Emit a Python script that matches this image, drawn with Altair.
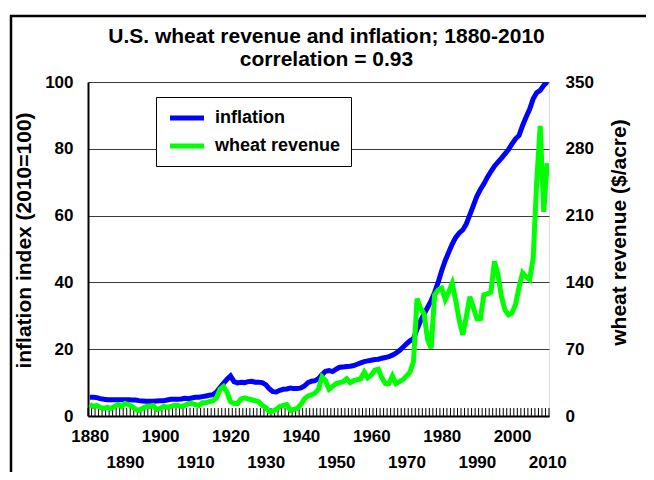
import altair as alt
import pandas as pd

years = list(range(1880, 2011))

inflation = [
    5.6, 5.6, 5.5, 5.2, 5.0, 4.9, 4.9, 4.9, 4.9, 4.9,
    4.9, 4.9, 4.8, 4.8, 4.6, 4.5, 4.4, 4.4, 4.4, 4.5,
    4.6, 4.6, 4.8, 5.0, 5.0, 5.0, 5.1, 5.3, 5.2, 5.4,
    5.6, 5.6, 5.8, 6.0, 6.2, 6.4, 7.2, 8.5, 9.8, 11.0,
    12.0, 10.3, 9.9, 10.1, 10.0, 10.3, 10.4, 10.1, 10.1, 10.0,
    9.4, 8.2, 7.3, 7.2, 7.7, 8.0, 8.1, 8.4, 8.2, 8.2,
    8.4, 9.0, 10.0, 10.4, 10.6, 11.2, 12.4, 13.4, 13.6, 13.3,
    14.0, 14.6, 14.7, 14.8, 14.9, 15.1, 15.5, 15.9, 16.3, 16.5,
    16.7, 16.9, 17.0, 17.3, 17.5, 17.8, 18.2, 18.8, 19.6, 20.6,
    21.6, 22.5, 23.2, 26.0, 28.5, 30.5, 32.5, 34.5, 37.0, 40.0,
    43.5, 46.5, 49.0, 51.5, 53.5, 54.8, 55.7, 57.5, 60.2, 63.0,
    65.8, 67.8, 69.5, 71.5, 73.2, 74.8, 76.0, 77.2, 78.5, 79.8,
    81.5, 83.0, 84.0, 87.0, 89.5, 91.8, 95.0, 96.8, 97.5, 99.0,
    100.0,
]

wheat = [
    12, 10, 11, 9, 8, 9, 8, 10, 12, 10,
    13, 12, 10, 7, 6, 8, 10, 10, 11, 7,
    8, 10, 9, 10, 11, 11, 10, 11, 13, 13,
    12, 11, 14, 14, 15, 16, 19, 28, 31, 25,
    15, 13, 13, 18, 19, 18, 17, 16, 15, 11,
    9, 4.5, 5, 7, 10, 11, 12, 6, 7, 8,
    12, 18, 21, 22, 24, 28, 41, 37, 28, 31,
    34, 35, 36, 39, 35, 37, 38, 39, 46, 40,
    43, 48, 49, 40, 34, 34, 42, 34, 36, 38,
    42, 46, 57, 123, 113, 107, 80, 71, 127, 132,
    134, 122, 130, 139, 121, 100, 85, 104, 125, 114,
    102, 102, 127, 128, 130, 162, 148, 125, 111, 106,
    108, 117, 135, 150, 146, 143, 165, 245, 304, 214,
    265,
]

series = ["inflation", "wheat revenue"]
colors = ["#0000ff", "#00ff00"]
left_ticks = [0, 20, 40, 60, 80, 100]
right_ticks = [0, 70, 140, 210, 280, 350]
label_row1 = [1880, 1900, 1920, 1940, 1960, 1980, 2000]
label_row2 = [1890, 1910, 1930, 1950, 1970, 1990, 2010]
boundaries = [y - 0.5 for y in years] + [years[-1] + 0.5]

F = "Liberation Sans"
W, H = 461, 334

df = pd.DataFrame({"year": years, "inflation": inflation, "wheat": wheat})
xscale = alt.Scale(domain=[1879.5, 2010.5], nice=False, zero=False)
cscale = alt.Scale(domain=series, range=colors)

legend = alt.Legend(
    orient="none", legendX=68, legendY=15, title=None, direction="vertical",
    symbolType="M-2,0H2", symbolStrokeWidth=5, symbolSize=289,
    symbolOffset=10, labelOffset=17,
    labelFont=F, labelFontSize=18, labelFontWeight="bold", labelColor="black",
    padding=10, rowPadding=7, strokeColor="black", fillColor="white",
    cornerRadius=0,
)

frame_data = alt.Data(values=[{"a": 1}])
border = alt.Chart(frame_data).mark_rect(
    fill=None, stroke="black", strokeWidth=2.5, clip=False
).encode(
    x=alt.value(-77), x2=alt.value(W + 99), y=alt.value(-66), y2=alt.value(H + 80)
)

ticks = alt.Chart(pd.DataFrame({"b": boundaries})).mark_rule(
    color="black", strokeWidth=1
).encode(
    x=alt.X("b:Q", scale=xscale, axis=None),
    y=alt.value(H - 8), y2=alt.value(H),
)

x_axis1 = alt.Axis(
    values=label_row1, format="d", orient="bottom", title=None, grid=False,
    ticks=False, domain=True, domainColor="black", domainWidth=2,
    labelFont=F, labelFontSize=17, labelFontWeight="bold", labelColor="black",
    labelPadding=12, labelFlush=False, labelOverlap=False,
)
x_axis2 = alt.Axis(
    values=label_row2, format="d", orient="bottom", title=None, grid=False,
    ticks=False, domain=False,
    labelFont=F, labelFontSize=17, labelFontWeight="bold", labelColor="black",
    labelPadding=38, labelFlush=False, labelOverlap=False,
)

infl = alt.Chart(df).transform_calculate(series='"inflation"').mark_line(
    strokeWidth=5, clip=True
).encode(
    x=alt.X("year:Q", scale=xscale, axis=x_axis1),
    y=alt.Y("inflation:Q", scale=alt.Scale(domain=[0, 100], nice=False),
            axis=alt.Axis(values=left_ticks, orient="left", title="inflation index (2010=100)",
                          grid=True, gridColor="#3a3a3a", gridWidth=1.2,
                          ticks=False, domain=True, domainColor="black", domainWidth=2,
                          labelFont=F, labelFontSize=17, labelFontWeight="bold",
                          labelColor="black", labelPadding=15,
                          titleFont=F, titleFontSize=21, titleFontWeight="bold",
                          titleColor="black", titleAngle=270, titleX=-64, titleY=158,
                          titleAlign="center", titleBaseline="middle")),
    color=alt.Color("series:N", scale=cscale, legend=legend),
)

wh = alt.Chart(df).transform_calculate(series='"wheat revenue"').mark_line(
    strokeWidth=5, clip=True
).encode(
    x=alt.X("year:Q", scale=xscale, axis=x_axis2),
    y=alt.Y("wheat:Q", scale=alt.Scale(domain=[0, 350], nice=False),
            axis=alt.Axis(values=right_ticks, orient="right", title="wheat revenue ($/acre)",
                          grid=False, ticks=False, domain=False,
                          labelFont=F, labelFontSize=17, labelFontWeight="bold",
                          labelColor="black", labelPadding=16,
                          titleFont=F, titleFontSize=21, titleFontWeight="bold",
                          titleColor="black", titleAngle=270, titleX=70, titleY=150,
                          titleAlign="center", titleBaseline="middle")),
    color=alt.Color("series:N", scale=cscale, legend=legend),
)

chart = alt.layer(border, ticks, infl, wh).resolve_scale(
    x="shared", y="independent", color="shared"
).resolve_axis(
    x="independent", y="independent"
).properties(
    width=W, height=H,
    autosize=alt.AutoSizeParams(type="none"),
    padding={"left": 80, "top": 74, "right": 97, "bottom": 56},
    title=alt.Title(
        text="U.S. wheat revenue and inflation; 1880-2010",
        subtitle="correlation = 0.93",
        font=F, fontSize=21, fontWeight="bold", color="black",
        subtitleFont=F, subtitleFontSize=21, subtitleFontWeight="bold",
        subtitleColor="black", subtitlePadding=2,
        anchor="middle", frame="group", dx=8, offset=-55,
    ),
).configure_view(stroke="black", strokeWidth=1.5).configure(background="white")

chart.save("out.html", embed_options={"renderer": "svg", "actions": False})
